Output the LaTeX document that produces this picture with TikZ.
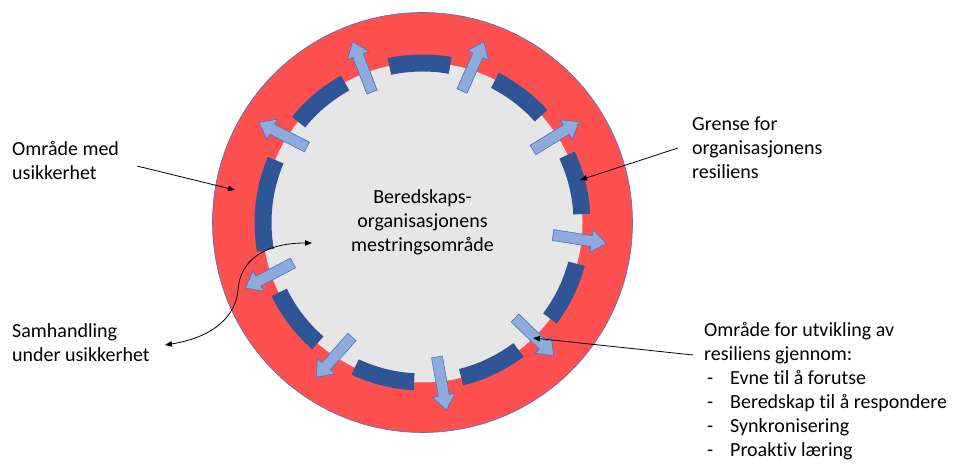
\documentclass[tikz,border=0pt]{standalone}
\usepackage{fontspec}
\setmainfont{Carlito}[Ligatures=NoCommon]
\usetikzlibrary{arrows.meta,calc}
\definecolor{ringred}{HTML}{FF5050}
\definecolor{coregray}{HTML}{E7E6E6}
\definecolor{bounddark}{HTML}{2F5597}
\definecolor{arrowfill}{HTML}{8FAADC}
\definecolor{arrowline}{HTML}{4472C4}

\begin{document}
\begin{tikzpicture}[x=1pt,y=1pt,
  lbl/.style={font=\fontsize{20}{24}\selectfont, inner sep=0pt, align=left},
  pointer/.style={draw=black, line width=0.8pt, -{Triangle[length=7pt,width=5.5pt]}},
  dualpointer/.style={draw=black, line width=0.8pt, {Triangle[length=7pt,width=5.5pt]}-{Triangle[length=7pt,width=5.5pt]}},
  growarrow/.style={fill=arrowfill, draw=arrowline, line width=0.6pt},
  boundseg/.style={fill=bounddark}
]
\useasboundingbox (0,0) rectangle (953,465);
\coordinate (C) at (422.5,242.5);

% outer zone of uncertainty and inner coping area
\filldraw[fill=ringred, draw=arrowline, line width=0.6pt] (C) circle[radius=210];
\fill[coregray] (C) circle[radius=160];

% segmented resilience boundary
\foreach \a/\b in {80/102, 42/63, 3/25, -37/-15, -76/-53, -115/-93, -154/-131, 157/190, 119/141}
  \fill[boundseg] ($(C)+(\a:151)$) arc[start angle=\a, end angle=\b, radius=151]
     -- ($(C)+(\b:168)$) arc[start angle=\b, end angle=\a, radius=168] -- cycle;

% outward block arrows through the gaps
\foreach \x/\y/\r in {372/373/111, 462/374/66, 533/315/31.5, 553/230/-9, 515/147/-44,
                      437/108/-80, 352/128/-131.6, 293/202/-152.4, 307/318/153}
  \draw[growarrow, shift={(\x,\y)}, rotate=\r]
     (0,-5.5) -- (39,-5.5) -- (39,-11.5) -- (54,0) -- (39,11.5) -- (39,5.5) -- (0,5.5) -- cycle;

% labels (base anchor sits on the last line)
\node[lbl, align=center, anchor=base] (core) at (422.5,213) {Beredskaps-\\organisasjonens\\mestringsområde};
\node[lbl, anchor=base west] (usik) at (12,285) {Område med\\usikkerhet};
\node[lbl, anchor=base west] (samh) at (12,103) {Samhandling\\under usikkerhet};
\node[lbl, anchor=base west] (grense) at (692,286) {Grense for\\organisasjonens\\resiliens};
\node[lbl, anchor=base west] (utv) at (704,8) {Område for utvikling av\\resiliens gjennom:\\
  \hspace*{3pt}\makebox[23pt][l]{-}Evne til å forutse\\
  \hspace*{3pt}\makebox[23pt][l]{-}Beredskap til å respondere\\
  \hspace*{3pt}\makebox[23pt][l]{-}Synkronisering\\
  \hspace*{3pt}\makebox[23pt][l]{-}Proaktiv læring};

% pointers
\coordinate (usikS) at (137,299);
\coordinate (usikE) at (235,275);
\draw[pointer] (usikS) -- (usikE);

\coordinate (grenS) at (678,317);
\coordinate (grenE) at (580,285);
\draw[pointer] (grenS) -- (grenE);

\coordinate (utvS) at (693,110);
\coordinate (utvE) at (533,127);
\draw[pointer] (utvS) -- (utvE);

\coordinate (samS) at (165,120);
\coordinate (samM) at (238,175);
\coordinate (samE) at (312,222);
\draw[dualpointer] (samS) .. controls (215,128) and (236,150) .. (samM)
   .. controls (240,205) and (265,222) .. (samE);
\end{tikzpicture}
\end{document}
